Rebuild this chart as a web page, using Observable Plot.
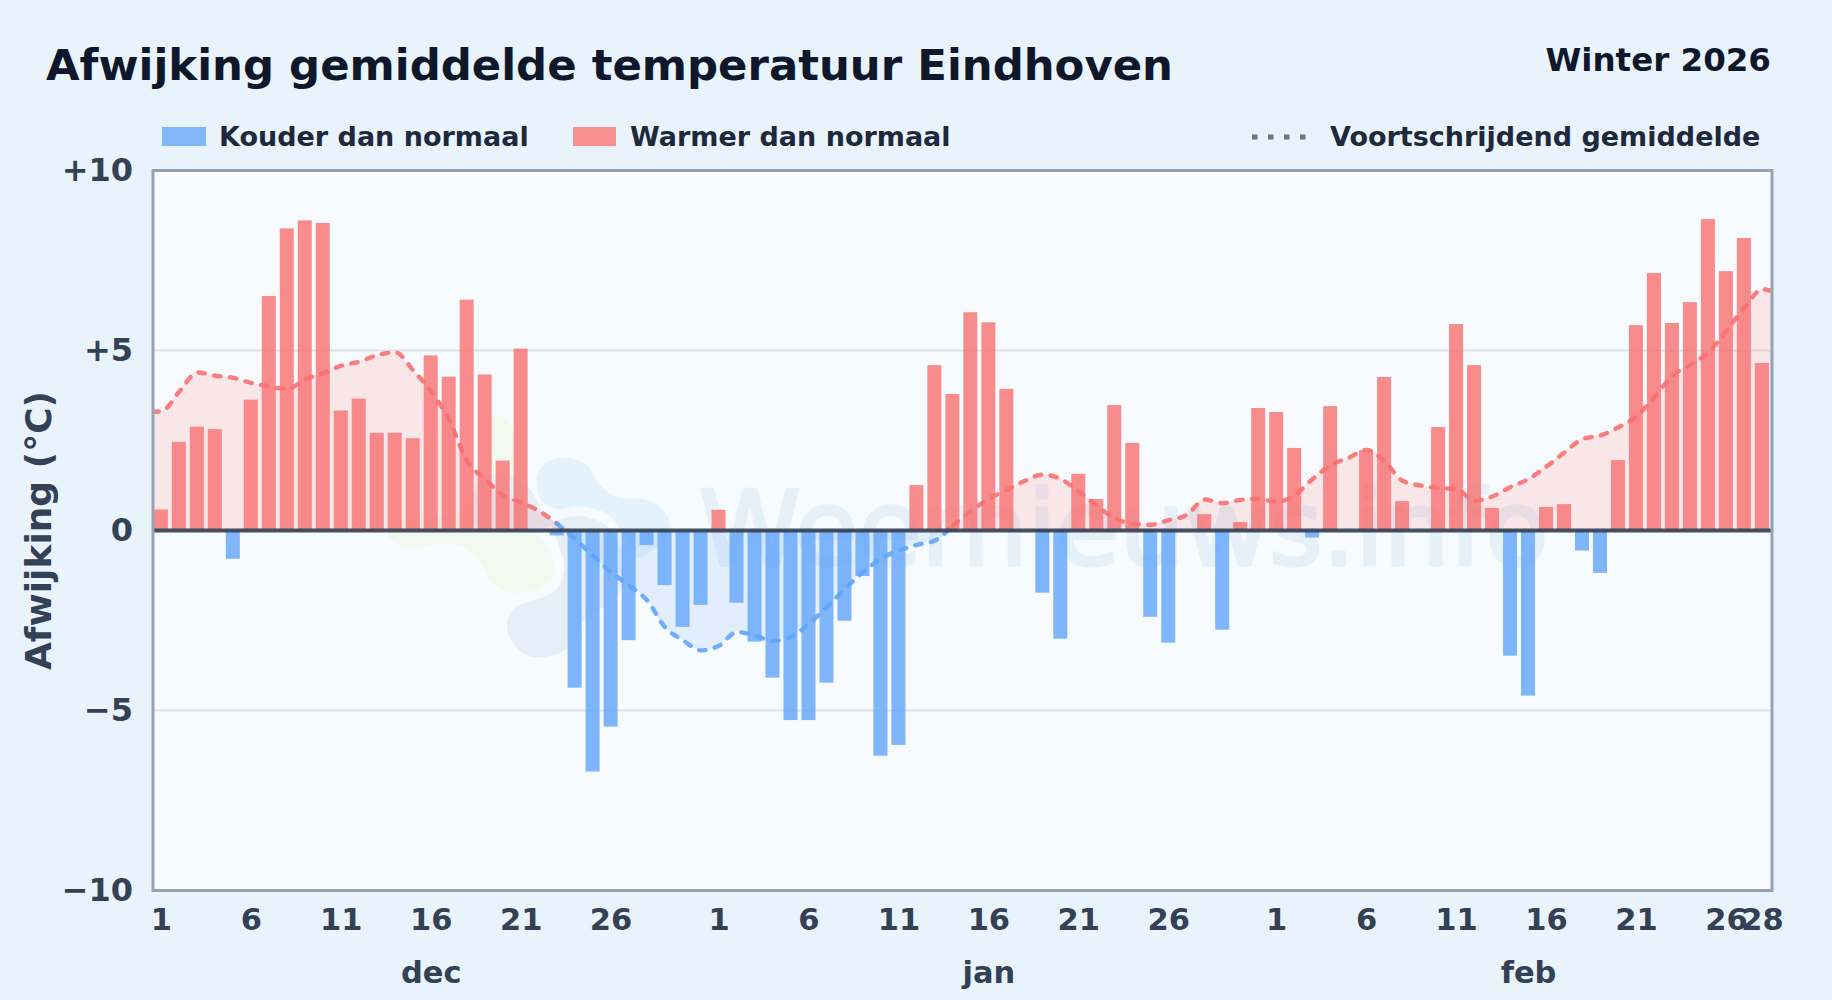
<!DOCTYPE html>
<html lang="nl">
<head>
<meta charset="utf-8">
<title>Afwijking gemiddelde temperatuur Eindhoven</title>
<script src="https://cdn.jsdelivr.net/npm/d3@7"></script>
<script src="https://cdn.jsdelivr.net/npm/@observablehq/plot@0.6"></script>
<style>
  html, body { margin: 0; padding: 0; background: #e9f3fc; width: 1832px; height: 1000px; overflow: hidden; }
  body { font-family: "DejaVu Sans", sans-serif; font-weight: 700; }
  #header { position: relative; height: 140px; width: 1832px; }
  #header > * { position: absolute; white-space: nowrap; line-height: 1; }
  #title { left: 46px; top: 44px; font-size: 43.4px; color: #0f172a; letter-spacing: 0; }
  #season { right: 61px; top: 44px; font-size: 32.5px; color: #0f172a; }
  .lg { top: 123px; font-size: 27px; color: #1e293b; }
  .sw { top: 127px; height: 19px; }
  #chart svg { display: block; }
</style>
</head>
<body>
<div id="header">
  <div id="title">Afwijking gemiddelde temperatuur Eindhoven</div>
  <div id="season">Winter 2026</div>
  <div class="sw" style="left:162px;width:44px;background:#80b7fb"></div>
  <div class="lg" style="left:219px">Kouder dan normaal</div>
  <div class="sw" style="left:573px;width:43px;background:#f99090"></div>
  <div class="lg" style="left:630px">Warmer dan normaal</div>
  <svg style="left:1250px;top:130px" width="60" height="14"><line x1="2" x2="60" y1="7" y2="7" stroke="#64748b" stroke-width="5" stroke-dasharray="5.5 10.5"/></svg>
  <div class="lg" style="left:1330px">Voortschrijdend gemiddelde</div>
</div>
<div id="chart"></div>
<script>
// Daily temperature deviation (°C); null = no bar
const decValues = [0.57,2.45,2.87,2.8,-0.8,3.62,6.5,8.38,8.6,8.53,3.32,3.65,2.7,2.7,2.55,4.85,4.26,6.4,4.32,1.93,5.04,null,-0.15,-4.38,-6.71,-5.46,-3.06,-0.42,-1.53,-2.69,-2.08];
const janValues = [0.56,-2.02,-3.1,-4.1,-5.28,-5.28,-4.24,-2.52,-1.28,-6.27,-5.97,1.25,4.58,3.78,6.05,5.77,3.92,null,-1.74,-3.02,1.56,0.86,3.47,2.42,-2.41,-3.13,null,0.44,-2.77,0.22,3.39];
const febValues = [3.28,2.28,-0.21,3.44,null,2.22,4.25,0.8,null,2.86,5.72,4.58,0.61,-3.49,-4.6,0.64,0.72,-0.57,-1.19,1.94,5.69,7.14,5.75,6.33,8.64,7.19,8.11,4.64];

// Running mean, one value per day
const decAverage = [3.31,3.86,4.39,4.3,4.24,4.1,4.0,3.93,4.2,4.37,4.58,4.69,4.87,4.95,4.45,3.86,3.07,1.92,1.43,0.98,0.78,0.54,0.19,-0.24,-0.7,-1.16,-1.53,-1.94,-2.69,-3.05,-3.33];
const janAverage = [-3.2,-2.82,-2.92,-3.07,-2.96,-2.59,-2.13,-1.62,-1.16,-0.78,-0.56,-0.4,-0.28,0.14,0.54,0.88,1.13,1.38,1.55,1.43,1.08,0.69,0.34,0.19,0.16,0.29,0.43,0.86,0.76,0.85,0.88];
const febAverage = [0.8,0.98,1.43,1.82,2.02,2.24,1.92,1.38,1.25,1.18,1.15,0.83,0.95,1.21,1.43,1.78,2.17,2.54,2.64,2.87,3.17,3.71,4.3,4.6,4.95,5.55,6.19,6.7];

const dayLabels = [[1,"1"],[6,"6"],[11,"11"],[16,"16"],[21,"21"],[26,"26"],
  [32,"1"],[37,"6"],[42,"11"],[47,"16"],[52,"21"],[57,"26"],
  [63,"1"],[68,"6"],[73,"11"],[78,"16"],[83,"21"],[88,"26"],[90,"28"]];
const monthLabels = [[16,"dec"],[47,"jan"],[77,"feb"]];
const yTicks = [-10,-5,0,5,10];
const gridTicks = [-5,5];

// Watermark logo outlines as [day, °C]
const logoBlue = [[21.87,1.48],[22.43,1.9],[23.54,2.02],[24.65,1.81],[25.3,1.3],[26.32,0.93],[27.99,0.85],[28.91,0.56],[29.28,0.05],[28.73,-0.37],[27.43,-0.74],[26.69,-0.09],[25.76,0.46],[24.28,0.67],[22.99,0.6],[22.15,0.83]];
const logoGreen = [[19.47,3.19],[20.39,2.96],[20.67,2.13],[20.95,0.83],[21.5,0.05],[22.43,-0.37],[22.8,-1.02],[22.43,-1.48],[20.76,-1.74],[19.47,-1.48],[18.54,-0.74],[17.25,-0.37],[14.47,-0.46],[13.54,-0.09],[13.91,0.19],[17.62,0.56],[19.1,2.22]];
const logoNavy = [[20.21,-2.59],[20.67,-2.13],[21.87,-1.92],[22.99,-1.62],[23.39,-1.02],[22.99,-0.28],[22.71,0.14],[23.54,0.37],[24.65,0.37],[25.76,0.14],[26.5,-0.46],[26.87,-1.2],[26.13,-1.95],[24.65,-2.41],[23.91,-3.06],[22.99,-3.43],[21.5,-3.5],[20.58,-3.15]];
const logoNavyTop = [[19.1,1.53],[20.39,1.53],[21.5,1.16],[22.15,0.56],[22.8,0.18],[21.32,0.05],[18.54,0.05],[18.45,1.11]];

const allValues = [...decValues, ...janValues, ...febValues];
const allAverage = [...decAverage, ...janAverage, ...febAverage];
const bars = allValues.map((v, i) => ({day: i + 1, v})).filter(d => d.v !== null && d.v !== 0);
const avg = allAverage.map((v, i) => ({day: i + 1, v}));
const avgEdges = [{day: 0.5, v: 3.3}, ...avg, {day: 90.55, v: 6.65}];

const RED = "#f87171", BLUE = "#60a5fa";
const redA = avgEdges.filter(d => d.day <= 23);
const blueL = avgEdges.filter(d => d.day >= 23 && d.day <= 45);
const redB = avgEdges.filter(d => d.day >= 45);
const blob = (pts, fill) => Plot.line(pts, {x: d => d[0], y: d => d[1], curve: "catmull-rom-closed", fill, stroke: "none"});
const dash = (pts, stroke) => Plot.lineY(pts, {x: "day", y: "v", stroke, strokeWidth: 4.4, strokeOpacity: 0.9, strokeDasharray: "6.5 9.5", strokeLinecap: "round", curve: "monotone-x", clip: true});
const axisText = {fontSize: 30.5, fontWeight: 700, fill: "#334155", tickSize: 0};

const chart = Plot.plot({
  width: 1832,
  height: 860,
  marginLeft: 152.5,
  marginRight: 60.5,
  marginTop: 30,
  marginBottom: 110,
  style: {background: "transparent", fontFamily: "'DejaVu Sans', sans-serif", overflow: "visible"},
  x: {type: "linear", domain: [0.535, 90.535], axis: null},
  y: {domain: [-10, 10], axis: null},
  marks: [
    Plot.frame({fill: "#f8fbfe", stroke: "none"}),
    blob(logoGreen, "#f3f9ee"),
    blob(logoNavy, "#e6eff8"),
    blob(logoNavyTop, "#e6eff8"),
    blob(logoBlue, "#e4f2fd"),
    Plot.text(["Weernieuws.info"], {x: [54.5], y: [-0.97], text: d => d, fontSize: 103, fontWeight: 400, fill: "#e6f0f9", stroke: "#e6f0f9", strokeWidth: 3.5, textAnchor: "middle", lineAnchor: "bottom"}),
    Plot.ruleY(gridTicks, {stroke: "#dde4ea", strokeWidth: 2}),
    Plot.areaY(avgEdges.filter(d => d.day <= 24), {x: "day", y1: 0, y2: d => Math.max(d.v, 0), fill: RED, fillOpacity: 0.15, curve: "monotone-x", clip: true}),
    Plot.areaY(avgEdges.filter(d => d.day >= 23 && d.day <= 45), {x: "day", y1: 0, y2: d => Math.min(d.v, 0), fill: BLUE, fillOpacity: 0.14, curve: "monotone-x", clip: true}),
    Plot.areaY(avgEdges.filter(d => d.day >= 44), {x: "day", y1: 0, y2: d => Math.max(d.v, 0), fill: RED, fillOpacity: 0.15, curve: "monotone-x", clip: true}),
    dash(redA, RED),
    dash(blueL, BLUE),
    dash(redB, RED),
    Plot.rectY(bars, {x1: d => d.day - 0.39, x2: d => d.day + 0.39, y1: 0, y2: "v", fill: d => d.v < 0 ? BLUE : RED, fillOpacity: 0.8, inset: 0, clip: true}),
    Plot.ruleY([0], {stroke: "#334155", strokeWidth: 4, strokeOpacity: 0.92}),
    Plot.frame({stroke: "#94a3b8", strokeWidth: 3, fill: "none"}),
    Plot.axisY({...axisText, fontSize: 32, ticks: yTicks, tickPadding: 20, label: null,
      tickFormat: d => d > 0 ? "+" + d : d < 0 ? "\u2212" + (-d) : "0"}),
    Plot.axisX({...axisText, ticks: dayLabels.map(d => d[0]), tickPadding: 18, label: null,
      tickFormat: d => new Map(dayLabels).get(d)}),
    Plot.axisX({...axisText, ticks: monthLabels.map(d => d[0]), tickPadding: 71, label: null,
      tickFormat: d => new Map(monthLabels).get(d)}),
    Plot.text(["Afwijking (\u00b0C)"], {text: d => d, frameAnchor: "left", textAnchor: "middle", dx: -114, rotate: -90, fontSize: 36, fontWeight: 700, fill: "#334155"})
  ]
});
document.getElementById("chart").appendChild(chart);
</script>
</body>
</html>
